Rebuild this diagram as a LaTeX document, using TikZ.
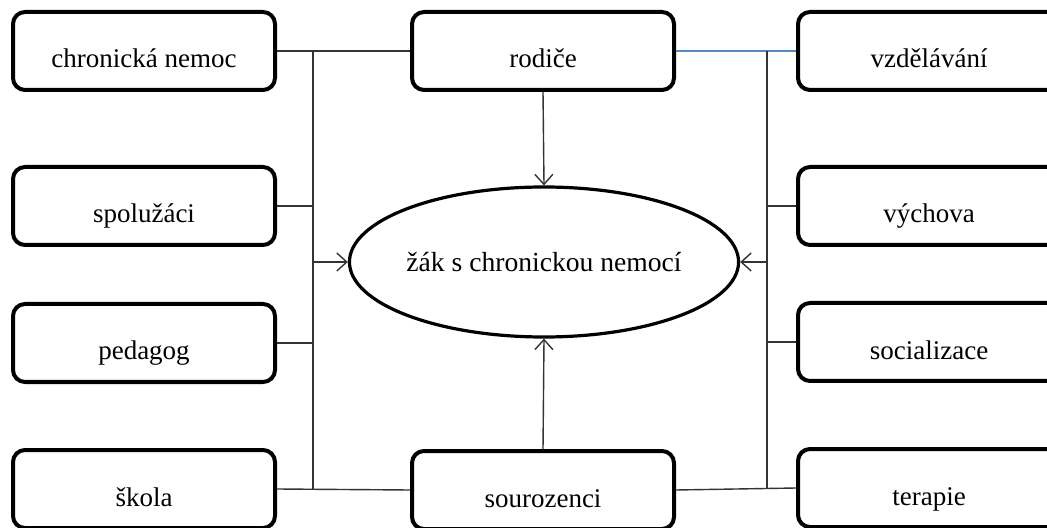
\documentclass[tikz,border=0pt]{standalone}
\usepackage{fontspec}
\setmainfont{Liberation Serif}
\usetikzlibrary{arrows.meta,shapes.geometric}
\definecolor{linkblue}{HTML}{5B87C0}
\tikzset{
  factor/.style={draw, line width=2pt, rounded corners=6pt, minimum width=131pt, minimum height=39pt, text height=17pt, text depth=0pt, font=\fontsize{13.5}{16}\selectfont},
  pupil/.style={draw, ellipse, line width=1.6pt, inner xsep=0pt, minimum width=192pt, minimum height=75pt, font=\fontsize{13.8}{16}\selectfont},
  link/.style={line width=0.7pt, black!80}
}
\begin{document}
\begin{tikzpicture}[x=0.5pt, y=-0.5pt, >={Straight Barb[length=5pt,width=9pt]}]
\useasboundingbox (0,0) rectangle (1047,528);
\clip (0,0) rectangle (1047,528);
\node[factor] (chron) at (144,51) {chronická nemoc};
\node[factor] (spoluz) at (144,206) {spolužáci};
\node[factor] (pedag) at (144,343) {pedagog};
\node[factor] (skola) at (144,489) {škola};
\node[factor] (rodice) at (543,51) {rodiče};
\node[factor] (souroz) at (543,490) {sourozenci};
\node[factor] (vzdel) at (929,51) {vzdělávání};
\node[factor] (vychova) at (929,206) {výchova};
\node[factor] (social) at (929,342) {socializace};
\node[factor] (terapie) at (929,488) {terapie};
\node[pupil] (zak) at (544,262) {žák s chronickou nemocí};
% left side
\coordinate (lt) at (313,51);
\coordinate (lb) at (313,489);
\draw[link] (chron.east) -- (rodice.west);
\draw[link] (skola.east) -- (souroz.west);
\draw[link] (lt) -- (lb);
\draw[link] (spoluz.east) -- (spoluz.east -| lt);
\draw[link] (pedag.east) -- (pedag.east -| lt);
\draw[link,->] (zak.west -| lt) -- (zak.west);
% right side
\coordinate (rt) at (767,51);
\coordinate (rb) at (767,488);
\draw[link, linkblue] (rodice.east) -- (vzdel.west);
\draw[link] (souroz.east) -- (terapie.west);
\draw[link] (rt) -- (rb);
\draw[link] (vychova.west) -- (vychova.west -| rt);
\draw[link] (social.west) -- (social.west -| rt);
\draw[link,->] (zak.east -| rt) -- (zak.east);
% middle
\draw[link,->] (rodice.south) -- (zak.north);
\draw[link,->] (souroz.north) -- (zak.south);
\end{tikzpicture}
\end{document}
